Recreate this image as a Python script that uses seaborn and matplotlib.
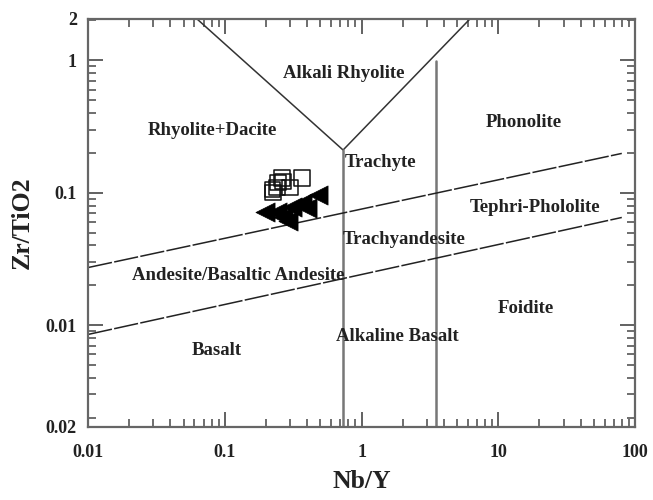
import matplotlib
matplotlib.use("Agg")
import matplotlib.pyplot as plt
import matplotlib.ticker as mticker
import numpy as np
import pandas as pd
import seaborn as sns

# Sample compositions (Nb/Y, Zr/TiO2)
sq_nby = [0.222, 0.245, 0.267, 0.262, 0.367, 0.241, 0.225, 0.300]
sq_zrti = [0.105, 0.119, 0.121, 0.129, 0.129, 0.109, 0.100, 0.110]
tri_nby = [0.481, 0.367, 0.310, 0.197, 0.241, 0.290, 0.399, 0.267]
tri_zrti = [0.0966, 0.0841, 0.0785, 0.072, 0.072, 0.0607, 0.0772, 0.066]

# Field boundaries of the Nb/Y vs Zr/TiO2 classification
v_nby = [0.0627, 0.733, 6.2]
v_zrti = [2.05, 0.21, 2.05]
left_vert_nby = [0.733, 0.733]
left_vert_zrti = [0.21, 0.0017]
right_vert_nby = [3.5, 3.5]
right_vert_zrti = [0.98, 0.0017]
upper_nby = [0.01, 80.0]
upper_zrti = [0.0272, 0.198]
lower_nby = [0.01, 80.0]
lower_zrti = [0.0085, 0.065]

field_names = ["Alkali Rhyolite", "Rhyolite+Dacite", "Phonolite", "Trachyte",
               "Tephri-Phololite", "Trachyandesite", "Andesite/Basaltic Andesite",
               "Foidite", "Alkaline Basalt", "Basalt"]
field_nby = [0.74, 0.081, 15.4, 1.37, 18.5, 2.05, 0.125, 15.8, 1.82, 0.088]
field_zrti = [0.80, 0.296, 0.34, 0.168, 0.077, 0.0445, 0.0235, 0.0133, 0.0082, 0.00646]

x_ticks = [0.01, 0.1, 1, 10, 100]
x_labels = ["0.01", "0.1", "1", "10", "100"]
y_ticks = [0.0017, 0.01, 0.1, 1, 2.05]
y_labels = ["0.02", "0.01", "0.1", "1", "2"]

sns.set_theme(style="ticks")
plt.rcParams["font.family"] = ["Liberation Serif", "DejaVu Serif"]
plt.rcParams["font.weight"] = "bold"

fig = plt.figure(figsize=(6.53, 5.0), dpi=100)
ax = fig.add_axes([0.1348, 0.146, 0.8377, 0.816])
ax.set_xscale("log")
ax.set_yscale("log")
ax.set_xlim(0.01, 100)
ax.set_ylim(0.0017, 2.05)

def boundary(xs, ys, **kw):
    sns.lineplot(x=xs, y=ys, sort=False, estimator=None, ax=ax, legend=False, **kw)

boundary(v_nby, v_zrti, color="#333333", linewidth=1.1)
boundary(left_vert_nby, left_vert_zrti, color="#777777", linewidth=1.8)
boundary(right_vert_nby, right_vert_zrti, color="#777777", linewidth=1.8)
boundary(upper_nby, upper_zrti, color="#222222", linewidth=1.1, linestyle=(0, (16, 1.5)))
boundary(lower_nby, lower_zrti, color="#222222", linewidth=1.1, linestyle=(0, (16, 1.5)))

squares = pd.DataFrame({"nby": sq_nby, "zrti": sq_zrti})
triangles = pd.DataFrame({"nby": tri_nby, "zrti": tri_zrti})
sns.scatterplot(data=squares, x="nby", y="zrti", marker="s", s=120,
                facecolor="none", edgecolor="#111111", linewidth=1.1, ax=ax, zorder=4)
sns.scatterplot(data=triangles, x="nby", y="zrti", marker="<", s=190,
                color="#000000", edgecolor="#000000", linewidth=0.5, ax=ax, zorder=5)

for name, fx, fy in zip(field_names, field_nby, field_zrti):
    ax.text(fx, fy, name, ha="center", va="center", fontsize=13.5,
            fontweight="bold", color="#222222")

ax.xaxis.set_major_locator(mticker.FixedLocator(x_ticks))
ax.xaxis.set_major_formatter(mticker.FixedFormatter(x_labels))
ax.xaxis.set_minor_locator(mticker.LogLocator(base=10, subs=np.arange(2, 10)))
ax.xaxis.set_minor_formatter(mticker.NullFormatter())
ax.yaxis.set_major_locator(mticker.FixedLocator(y_ticks))
ax.yaxis.set_major_formatter(mticker.FixedFormatter(y_labels))
ax.yaxis.set_minor_locator(mticker.LogLocator(base=10, subs=np.arange(2, 10)))
ax.yaxis.set_minor_formatter(mticker.NullFormatter())

ax.tick_params(which="both", direction="in", top=True, right=True,
               colors="#555555", labelcolor="#222222", labelsize=13)
ax.tick_params(which="major", length=11, width=1.3)
ax.tick_params(axis="x", which="major", pad=12)
ax.tick_params(axis="y", which="major", pad=8)
ax.tick_params(which="minor", length=6, width=1.2)
for lab in ax.get_xticklabels() + ax.get_yticklabels():
    lab.set_fontweight("bold")
for sp in ax.spines.values():
    sp.set_color("#666666")
    sp.set_linewidth(1.6)

ax.set_xlabel("Nb/Y", fontsize=18.5, fontweight="bold", color="#222222", labelpad=7)
ax.set_ylabel("Zr/TiO2", fontsize=18.5, fontweight="bold", color="#222222", labelpad=9)

fig.savefig("out.png", dpi=100)
